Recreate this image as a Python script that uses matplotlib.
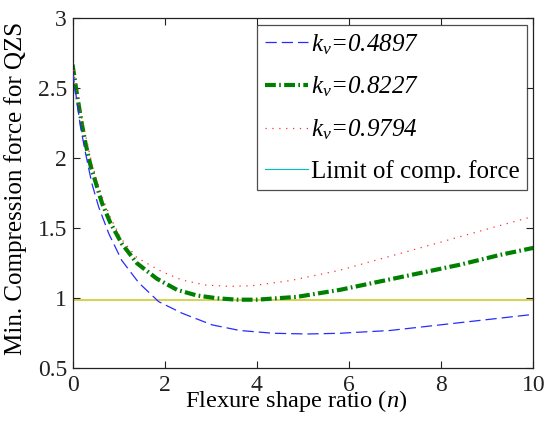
import matplotlib
matplotlib.use("Agg")
import matplotlib.pyplot as plt
from matplotlib.lines import Line2D

plt.rcParams['font.family'] = ['Liberation Serif', 'DejaVu Serif']
plt.rcParams['mathtext.fontset'] = 'custom'
plt.rcParams['mathtext.rm'] = 'Liberation Serif:italic'
plt.rcParams['mathtext.it'] = 'Liberation Serif:italic'

# data
blue_n = [0, 0.06, 0.17, 0.28, 0.42, 0.57, 0.79, 1.07, 1.44, 1.87, 2.38, 3.03, 3.63, 4.36, 5.1, 5.8, 6.89, 7.98, 9.06, 10]
blue_v = [2.62, 2.49, 2.23, 2.04, 1.82, 1.65, 1.46, 1.27, 1.11, 0.976, 0.893, 0.81, 0.77, 0.75, 0.745, 0.75, 0.77, 0.81, 0.85, 0.885]

green_n = [0, 0.1, 0.2, 0.28, 0.39, 0.51, 0.64, 0.82, 1.07, 1.4, 1.83, 2.27, 2.7, 3.14, 3.57, 4.0, 4.87, 5.8, 6.67, 7.54, 8.41, 9.28, 10]
green_v = [2.67, 2.45, 2.25, 2.11, 1.95, 1.82, 1.68, 1.54, 1.39, 1.25, 1.14, 1.06, 1.02, 1.00, 0.99, 0.99, 1.01, 1.06, 1.12, 1.18, 1.24, 1.31, 1.36]

red_n = [0, 0.1, 0.2, 0.3, 0.4, 0.52, 0.65, 0.83, 1.07, 1.4, 1.94, 2.38, 2.88, 3.4, 3.9, 4.72, 5.8, 6.89, 7.98, 9.06, 10]
red_v = [2.68, 2.46, 2.28, 2.14, 1.99, 1.85, 1.72, 1.57, 1.42, 1.29, 1.19, 1.13, 1.095, 1.085, 1.09, 1.126, 1.20, 1.30, 1.40, 1.50, 1.585]

limit_value = 0.985
kv_values = ['0.4897', '0.8227', '0.9794']
labels = [r'$k_v$' + '=' + v for v in kv_values] + ['Limit of comp. force']
xticks = [0, 2, 4, 6, 8, 10]
yticks = [0.5, 1, 1.5, 2, 2.5, 3]
yticklabels = ['0.5', '1', '1.5', '2', '2.5', '3']

fig = plt.figure(figsize=(5.44, 4.22), dpi=100)
ax = fig.add_axes([0.1333, 0.1273, 0.8470, 0.8293])

ax.axhline(limit_value, color=(0.82, 0.82, 0.25), lw=1.3, zorder=1)
l1, = ax.plot(blue_n, blue_v, color='#2a2aff', lw=0.9, dashes=(9, 4), label=labels[0], zorder=3)
l2, = ax.plot(green_n, green_v, color='#008000', lw=3.0, dashes=(2.6, 0.8, 0.4, 0.8), label=labels[1], zorder=2)
l3, = ax.plot(red_n, red_v, color='#ff3030', lw=0.9, dashes=(1, 4.5), label=labels[2], zorder=4)
proxy = Line2D([], [], color='#00bfbf', lw=0.8)

ax.set_xlim(0, 10)
ax.set_ylim(0.5, 3)
ax.set_xticks(xticks)
ax.set_yticks(yticks)
ax.set_yticklabels(yticklabels)
ax.tick_params(direction='in', length=5, width=0.8, top=True, right=True,
               labelsize=17, colors='#222222')
ax.tick_params(axis='x', pad=5)
ax.tick_params(axis='y', pad=4)
for s in ax.spines.values():
    s.set_linewidth(0.9)
    s.set_color('#222222')

ax.set_xlabel('Flexure shape ratio (' + r'$n$' + ')', fontsize=17.6)
ax.xaxis.set_label_coords(0.485, -0.057)
ax.xaxis.label.set_va('top')
ax.set_ylabel('Min. Compression force for QZS', fontsize=18)
ax.yaxis.set_label_coords(-0.0994, 0.514)

leg = ax.legend([l1, l2, l3, proxy], labels, loc='upper right', fontsize=18,
                frameon=True, fancybox=False, edgecolor='#222222',
                handlelength=1.75, handletextpad=0.1, labelspacing=0.72,
                borderpad=0.3, borderaxespad=0.25)
leg.get_frame().set_linewidth(0.9)
for t in leg.get_texts()[:3]:
    t.set_fontstyle('italic')

fig.savefig('out.png', dpi=100)
